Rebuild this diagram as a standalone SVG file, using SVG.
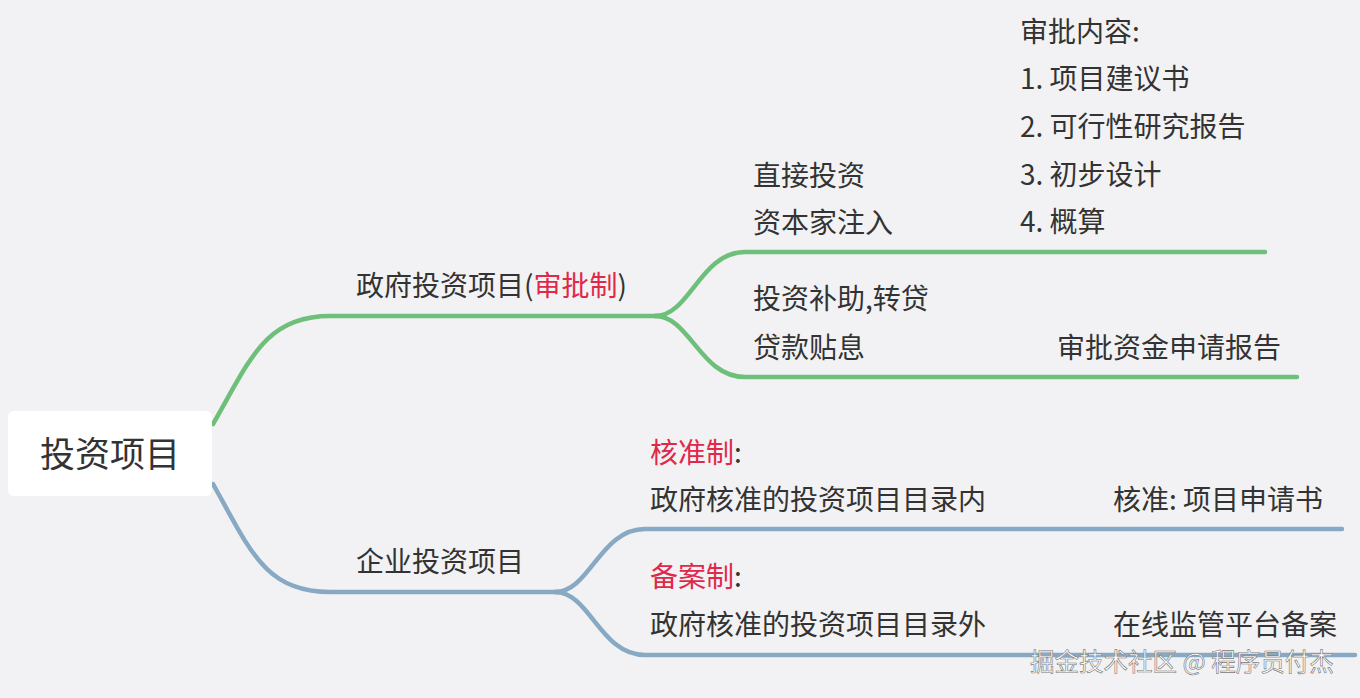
<svg xmlns="http://www.w3.org/2000/svg" width="1360" height="698" viewBox="0 0 1360 698">
<style>
.t{font-family:"Noto Sans CJK SC","Noto Sans",sans-serif;font-size:28px;fill:#333}
.r{fill:#e0284a}
.g{fill:none;stroke:#6dbf7a;stroke-width:4.5;stroke-linecap:round}
.b{fill:none;stroke:#88a9c3;stroke-width:4.5;stroke-linecap:round}
.wm{font-family:"Noto Sans CJK SC","Noto Sans",sans-serif;font-size:24.5px;fill:#fff;stroke:#777;stroke-width:0.6}
</style>
<rect width="1360" height="698" fill="#f2f2f4"/>
<g id="connectors">
<path class="g" d="M213 424 C250 360 265 316 330 316 H660"/>
<path class="g" d="M655 316 C690 316 700 252 745 252 H1265"/>
<path class="g" d="M655 316 C690 316 700 377 745 377 H1297"/>
<path class="b" d="M213 484 C250 550 265 592 330 592 H560"/>
<path class="b" d="M555 592 C590 592 600 529 645 529 H1342"/>
<path class="b" d="M555 592 C590 592 600 655 645 655 H1355"/>
</g>
<g id="root">
<rect x="8" y="411" width="204" height="85" rx="6" fill="#fff"/>
<text class="t" x="110" y="467" text-anchor="middle" style="font-size:35px">投资项目</text>
</g>
<g id="gov">
<text class="t" x="356" y="296">政府投资项目(<tspan class="r">审批制</tspan>)</text>
</g>
<g id="direct">
<text class="t" x="753" y="186">直接投资</text>
<text class="t" x="753" y="233">资本家注入</text>
</g>
<g id="content">
<text class="t" x="1020" y="42">审批内容:</text>
<text class="t" x="1020" y="89">1. 项目建议书</text>
<text class="t" x="1020" y="137">2. 可行性研究报告</text>
<text class="t" x="1020" y="185">3. 初步设计</text>
<text class="t" x="1020" y="232">4. 概算</text>
</g>
<g id="subsidy">
<text class="t" x="753" y="309">投资补助,转贷</text>
<text class="t" x="753" y="358">贷款贴息</text>
</g>
<g id="fund">
<text class="t" x="1057" y="358">审批资金申请报告</text>
</g>
<g id="ent">
<text class="t" x="356" y="572">企业投资项目</text>
</g>
<g id="approve">
<text class="t" x="650" y="463"><tspan class="r">核准制</tspan>:</text>
<text class="t" x="650" y="510">政府核准的投资项目目录内</text>
</g>
<g id="approve-doc">
<text class="t" x="1113" y="510">核准: 项目申请书</text>
</g>
<g id="record">
<text class="t" x="650" y="587"><tspan class="r">备案制</tspan>:</text>
<text class="t" x="650" y="635">政府核准的投资项目目录外</text>
</g>
<g id="record-doc">
<text class="t" x="1113" y="635">在线监管平台备案</text>
</g>
<text class="wm" x="1030" y="671">掘金技术社区 @ 程序员付杰</text>
</svg>
